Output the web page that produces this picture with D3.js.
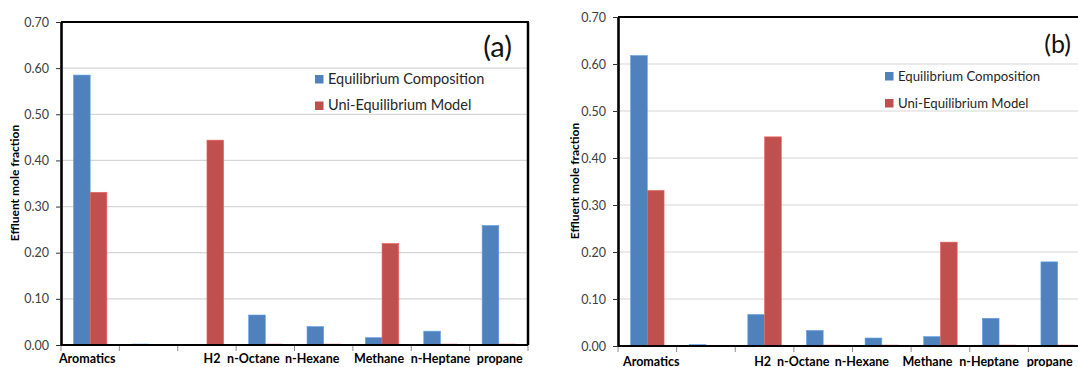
<!DOCTYPE html>
<html>
<head>
<meta charset="utf-8">
<script src="https://cdn.jsdelivr.net/npm/d3@7"></script>
<style>
  html, body { margin: 0; padding: 0; background: #fff; }
  svg { display: block; font-family: Lato, "Open Sans", sans-serif; }
</style>
</head>
<body>
<svg id="chart" width="1078" height="367"></svg>
<script>
// ---- data -------------------------------------------------------------
const categories = ["Aromatics", "", "H2", "n-Octane", "n-Hexane", "Methane", "n-Heptane", "propane"];
const seriesNames = ["Equilibrium Composition", "Uni-Equilibrium Model"];
const yTickValues = [0, 0.1, 0.2, 0.3, 0.4, 0.5, 0.6, 0.7];
const yTitle = "Effluent mole fraction";
const panelTags = ["(a)", "(b)"];

// panel (a)
const equilibriumA    = [0.585, 0.002, 0.001, 0.065, 0.040, 0.016, 0.030, 0.259];
const uniEquilibriumA = [0.331, 0.000, 0.444, 0.002, 0.002, 0.220, 0.002, 0.002];
// panel (b)
const equilibriumB    = [0.618, 0.003, 0.067, 0.033, 0.017, 0.020, 0.059, 0.179];
const uniEquilibriumB = [0.331, 0.000, 0.445, 0.002, 0.002, 0.221, 0.002, 0.002];

// ---- styling ------------------------------------------------------------
const colors = ["#4F81BD", "#C0504D"];

const panels = [
  {
    tag: panelTags[0], series: [equilibriumA, uniEquilibriumA],
    left: 61, right: 528, top: 22, bottom: 345, drawRight: true,
    titleX: 19, titleY: 183,
    labelY: 362.5, labelNudge: [-3, 0, 5, -12, -11.5, -3, 0, 1],
    legend: { x: 315, y: 75, gap: 26.5, size: 14.5, box: 8.5 },
    tagPos: { x: 512, y: 57, size: 29 }
  },
  {
    tag: panelTags[1], series: [equilibriumB, uniEquilibriumB],
    left: 618, right: 1087, top: 17, bottom: 346, drawRight: false,
    titleX: 579, titleY: 181,
    labelY: 365.5, labelNudge: [4, 0, -2, -20, -20, -13, -10, -8],
    legend: { x: 885, y: 72, gap: 27, size: 13.2, box: 8.5 },
    tagPos: { x: 1071, y: 53, size: 25 }
  }
];

const svg = d3.select("#chart");

panels.forEach(p => {
  const g = svg.append("g");

  const x = d3.scaleBand()
    .domain(d3.range(categories.length))
    .range([p.left, p.right])
    .paddingInner(0).paddingOuter(0);

  const xSeries = d3.scaleBand()
    .domain(d3.range(seriesNames.length))
    .range([0, x.bandwidth()])
    .paddingInner(0).paddingOuter(0.75);

  const y = d3.scaleLinear().domain([0, 0.7]).range([p.bottom, p.top]);

  // horizontal gridlines
  g.append("g").selectAll("line")
    .data(yTickValues.filter(v => v > 0 && v < 0.7))
    .join("line")
    .attr("x1", p.left).attr("x2", p.right)
    .attr("y1", d => y(d)).attr("y2", d => y(d))
    .attr("stroke", "#d6d6d6").attr("stroke-width", 1.2);

  // bars
  p.series.forEach((values, si) => {
    g.append("g").selectAll("rect")
      .data(values)
      .join("rect")
      .attr("x", (d, i) => x(i) + xSeries(si))
      .attr("width", xSeries.bandwidth())
      .attr("y", d => y(d))
      .attr("height", d => y(0) - y(d))
      .attr("fill", colors[si])
      .attr("stroke", d3.color(colors[si]).brighter(0.6))
      .attr("stroke-width", 0.6);
  });

  // plot frame: top and right edges
  g.append("line")
    .attr("x1", p.left).attr("x2", p.right + 1)
    .attr("y1", p.top).attr("y2", p.top)
    .attr("stroke", "#000").attr("stroke-width", 2.2);
  if (p.drawRight) {
    g.append("line")
      .attr("x1", p.right).attr("x2", p.right)
      .attr("y1", p.top).attr("y2", p.bottom)
      .attr("stroke", "#000").attr("stroke-width", 2.5);
  }

  // category boundary ticks
  g.append("g").selectAll("line")
    .data(d3.range(categories.length + 1))
    .join("line")
    .attr("x1", i => p.left + i * x.step()).attr("x2", i => p.left + i * x.step())
    .attr("y1", p.bottom).attr("y2", p.bottom + 6)
    .attr("stroke", "#8c8c8c").attr("stroke-width", 1);

  // baseline
  g.append("line")
    .attr("x1", p.left).attr("x2", p.right)
    .attr("y1", y(0)).attr("y2", y(0))
    .attr("stroke", "#000").attr("stroke-width", 2.2);

  // y axis
  const yAxis = g.append("g")
    .attr("transform", `translate(${p.left},0)`)
    .call(d3.axisLeft(y).tickValues(yTickValues).tickFormat(d3.format(".2f")).tickSize(5).tickSizeOuter(0).tickPadding(7));
  yAxis.select(".domain").attr("stroke", "#000").attr("stroke-width", 2.6);
  yAxis.selectAll(".tick line").attr("stroke", "#333");
  yAxis.selectAll(".tick text")
    .attr("fill", "#404040")
    .style("font-size", "12.5px")
    .style("font-family", "Lato, 'Open Sans', sans-serif");

  // category labels
  const xAxis = g.append("g")
    .attr("transform", `translate(0,${p.labelY})`)
    .call(d3.axisBottom(x).tickSize(0).tickPadding(0).tickFormat(i => categories[i]));
  xAxis.select(".domain").remove();
  xAxis.selectAll(".tick text")
    .attr("dy", 0)
    .attr("dx", i => p.labelNudge[i])
    .attr("fill", "#000")
    .style("font-size", "12.5px")
    .style("font-weight", "bold")
    .style("font-family", "Lato, 'Open Sans', sans-serif");

  // y title
  g.append("text")
    .attr("transform", `translate(${p.titleX},${p.titleY}) rotate(-90)`)
    .attr("text-anchor", "middle")
    .style("font-size", "12px")
    .style("font-weight", "bold")
    .attr("fill", "#000")
    .text(yTitle);

  // legend
  const lg = g.append("g");
  seriesNames.forEach((name, si) => {
    const yy = p.legend.y + si * p.legend.gap;
    lg.append("rect")
      .attr("x", p.legend.x).attr("y", yy)
      .attr("width", p.legend.box).attr("height", p.legend.box)
      .attr("fill", colors[si]);
    lg.append("text")
      .attr("x", p.legend.x + 13).attr("y", yy + p.legend.box)
      .style("font-size", p.legend.size + "px")
      .attr("fill", "#262626")
      .text(name);
  });

  // panel tag
  g.append("text")
    .attr("x", p.tagPos.x).attr("y", p.tagPos.y)
    .attr("text-anchor", "end")
    .style("font-size", p.tagPos.size + "px")
    .attr("fill", "#111")
    .text(p.tag);
});
</script>
</body>
</html>
